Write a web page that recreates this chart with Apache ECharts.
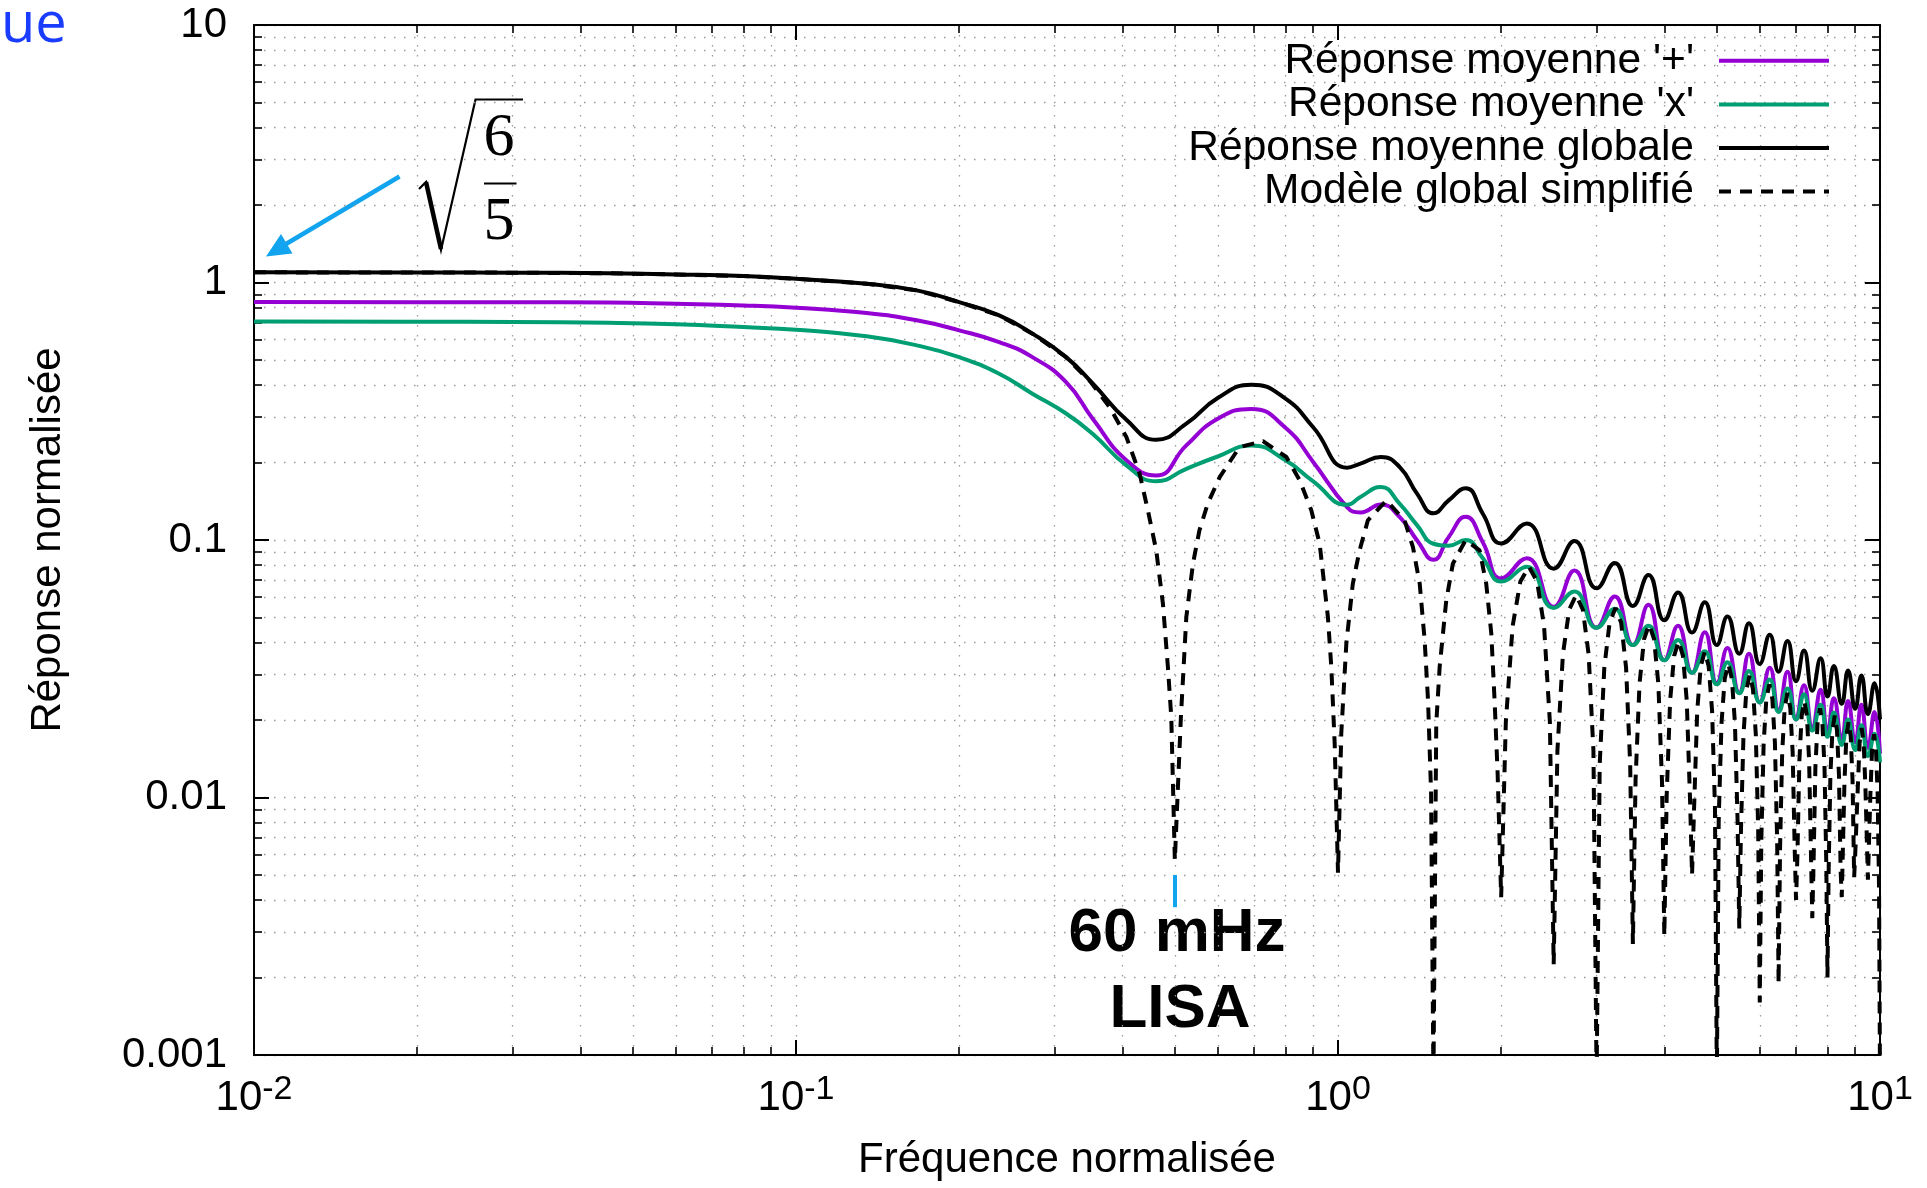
<!DOCTYPE html>
<html><head><meta charset="utf-8">
<script src="https://cdn.jsdelivr.net/npm/echarts@6/dist/echarts.min.js"></script>
<style>html,body{margin:0;padding:0;background:#fff}#c{width:1927px;height:1188px}</style>
</head><body><div id="c"></div>
<script>
// ---------------- DATA ----------------
const legendNames = ["Réponse moyenne '+'", "Réponse moyenne 'x'", "Réponse moyenne globale", "Modèle global simplifié"];

const xTickValues = [0.01, 0.1, 1, 10];
const xTickExponents = ['-2', '-1', '0', '1'];
const yTickValues = [0.001, 0.01, 0.1, 1, 10];
const yTickLabels = ['0.001', '0.01', '0.1', '1', '10'];

// shared frequency grid of the three solid curves
const fSolid = [0.01, 0.02, 0.03, 0.045, 0.06, 0.08, 0.1, 0.135, 0.167, 0.2,
  0.237, 0.273, 0.315, 0.353, 0.407, 0.462, 0.525, 0.6, 0.692, 0.8,
  0.9, 1.04, 1.1, 1.2, 1.3, 1.4, 1.5, 1.6, 1.72, 1.85,
  2.0, 2.23, 2.5, 2.73, 3.0, 3.24, 3.5, 3.74, 4.0, 4.24,
  4.5, 4.75, 5.0, 5.23, 5.5, 5.73, 6.0, 6.26, 6.5, 6.75,
  7.0, 7.24, 7.5, 7.77, 8.0, 8.22, 8.5, 8.73, 9.0, 9.24,
  9.5, 9.77, 10];

const globalResp = [1.095, 1.094, 1.092, 1.086, 1.075, 1.059, 1.034, 0.989, 0.932, 0.839,
  0.745, 0.633, 0.513, 0.405, 0.293, 0.245, 0.283, 0.356, 0.401, 0.354,
  0.274, 0.191, 0.198, 0.210, 0.192, 0.151, 0.127, 0.1425, 0.159, 0.1265,
  0.097, 0.116, 0.0774, 0.099, 0.0649, 0.0815, 0.0554, 0.0731, 0.0488, 0.0626,
  0.0437, 0.0573, 0.0391, 0.0505, 0.0362, 0.0475, 0.033, 0.0429, 0.0308, 0.0405,
  0.0283, 0.0372, 0.026, 0.0347, 0.0247, 0.0324, 0.0231, 0.0311, 0.0221, 0.0298,
  0.0211, 0.0278, 0.0201];

const plusResp = [0.840, 0.839, 0.838, 0.836, 0.827, 0.815, 0.798, 0.761, 0.713, 0.652,
  0.587, 0.513, 0.41, 0.295, 0.204, 0.178, 0.233, 0.296, 0.323, 0.273,
  0.201, 0.134, 0.128, 0.1375, 0.1227, 0.0996, 0.0838, 0.1026, 0.123, 0.0981,
  0.071, 0.085, 0.055, 0.0761, 0.0456, 0.0603, 0.0391, 0.056, 0.0341, 0.0464,
  0.0305, 0.0438, 0.0278, 0.0381, 0.0255, 0.0362, 0.0234, 0.0319, 0.0219, 0.0308,
  0.0201, 0.0273, 0.0188, 0.0262, 0.0178, 0.0243, 0.0169, 0.0237, 0.0164, 0.0229,
  0.0156, 0.0215, 0.0148];

const crossResp = [0.705, 0.704, 0.702, 0.697, 0.688, 0.671, 0.656, 0.618, 0.570, 0.513,
  0.442, 0.370, 0.31, 0.258, 0.195, 0.169, 0.189, 0.211, 0.233, 0.204,
  0.169, 0.137, 0.147, 0.1605, 0.138, 0.114, 0.0967, 0.095, 0.100, 0.0849,
  0.069, 0.0787, 0.0545, 0.0631, 0.0456, 0.0541, 0.0391, 0.0464, 0.0341, 0.0409,
  0.0305, 0.037, 0.0275, 0.0335, 0.0254, 0.031, 0.0234, 0.0287, 0.0215, 0.0265,
  0.0201, 0.0252, 0.0182, 0.0229, 0.0172, 0.0214, 0.016, 0.0201, 0.0153, 0.0191,
  0.0145, 0.0177, 0.0137];

// simplified global model: [frequency, response]
const modelPoints = [
  [0.01,1.095],[0.02,1.094],[0.03,1.092],[0.045,1.086],[0.06,1.075],[0.08,1.059],[0.1,1.034],
  [0.135,0.989],[0.167,0.932],[0.2,0.839],[0.237,0.745],[0.273,0.633],[0.315,0.513],[0.35,0.41],
  [0.379,0.328],[0.407,0.251],[0.4305,0.181],[0.446,0.130],[0.462,0.0911],[0.4753,0.0566],
  [0.4855,0.0321],[0.4925,0.0205],[0.5,0.0057],[0.513,0.0205],[0.525,0.0502],[0.54,0.0809],
  [0.555,0.109],[0.575,0.1384],[0.605,0.1755],[0.658,0.2295],[0.727,0.2421],[0.803,0.21],
  [0.85,0.1704],[0.893,0.1303],[0.925,0.0967],[0.958,0.0502],[0.972,0.0321],[0.986,0.0162],
  [1.0,0.0051],[1.014,0.0177],[1.036,0.0396],[1.065,0.0677],[1.096,0.0911],[1.135,0.1191],
  [1.228,0.1425],[1.327,0.1191],[1.375,0.0938],[1.415,0.0677],[1.445,0.0408],[1.466,0.0238],
  [1.485,0.0105],[1.5,0.0008],[1.518,0.0193],[1.54,0.0321],[1.584,0.0583],[1.629,0.0809],
  [1.72,0.1],[1.825,0.0911],[1.877,0.0677],[1.918,0.0433],[1.945,0.0238],[1.97,0.0125],
  [2.0,0.0041],[2.04,0.0196],[2.1,0.0463],[2.17,0.069],[2.25,0.0788],[2.33,0.069],[2.4,0.0463],[2.46,0.0196],
  [2.5,0.00225],[2.54,0.0152],[2.6,0.036],[2.67,0.0536],[2.75,0.0612],[2.83,0.0536],[2.9,0.036],[2.96,0.0152],
  [3.0,0.0008],[3.04,0.0135],[3.1,0.032],[3.17,0.0477],[3.25,0.0544],[3.33,0.0477],[3.4,0.032],[3.46,0.0135],
  [3.5,0.0027],[3.54,0.0117],[3.6,0.0276],[3.67,0.0412],[3.75,0.047],[3.83,0.0412],[3.9,0.0276],[3.96,0.0117],
  [4.0,0.0029],[4.04,0.0101],[4.1,0.0238],[4.17,0.0355],[4.25,0.0405],[4.33,0.0355],[4.4,0.0238],[4.46,0.0101],
  [4.5,0.005],[4.54,0.0092],[4.6,0.0217],[4.67,0.0323],[4.75,0.0369],[4.83,0.0323],[4.9,0.0217],[4.96,0.0092],
  [5.0,0.0008],[5.04,0.0082],[5.1,0.0194],[5.17,0.0289],[5.25,0.033],[5.33,0.0289],[5.4,0.0194],[5.46,0.0082],
  [5.5,0.0031],[5.54,0.0075],[5.6,0.0176],[5.67,0.0263],[5.75,0.030],[5.83,0.0263],[5.9,0.0176],[5.96,0.0075],
  [6.0,0.0016],[6.04,0.0068],[6.1,0.0162],[6.17,0.0241],[6.25,0.0275],[6.33,0.0241],[6.4,0.0162],[6.46,0.0068],
  [6.5,0.0019],[6.54,0.0063],[6.6,0.015],[6.67,0.0223],[6.75,0.0255],[6.83,0.0223],[6.9,0.015],[6.96,0.0063],
  [7.0,0.004],[7.04,0.0059],[7.1,0.0139],[7.17,0.0208],[7.25,0.0237],[7.33,0.0208],[7.4,0.0139],[7.46,0.0059],
  [7.5,0.0034],[7.54,0.0055],[7.6,0.0131],[7.67,0.0194],[7.75,0.0222],[7.83,0.0194],[7.9,0.0131],[7.96,0.0055],
  [8.0,0.002],[8.04,0.0052],[8.1,0.0122],[8.17,0.0182],[8.25,0.0208],[8.33,0.0182],[8.4,0.0122],[8.46,0.0052],
  [8.5,0.0041],[8.6,0.0116],[8.67,0.0173],[8.75,0.0197],[8.83,0.0173],[8.9,0.0116],[8.96,0.0049],
  [9.0,0.006],[9.1,0.0109],[9.17,0.0163],[9.25,0.0186],[9.33,0.0163],[9.4,0.0109],
  [9.5,0.0048],[9.6,0.0103],[9.67,0.0154],[9.75,0.0176],[9.83,0.0154],[9.9,0.0103],[9.96,0.0044],[10.0,0.0008]
];

// LISA marker (frequency and response span of the small blue tick)
const lisaFreq = 0.5;
const lisaSpan = [0.005, 0.00375];

// ---------------- CHART ----------------
const FONT = '"Liberation Sans", Arial, Helvetica, sans-serif';
const SERIF = '"Liberation Serif", "DejaVu Serif", serif';
const BLUE = '#12A4EE';
const pair = (xs, ys) => xs.map((x, i) => [x, ys[i]]);
const findIdx = (arr, v) => arr.findIndex(t => Math.abs(Math.log10(t) - Math.log10(v)) < 1e-6);

const dots = { show: true, lineStyle: { color: '#9a9a9a', width: 1.3, type: [1.5, 8.5] } };
function logAxis(extra) {
  return Object.assign({
    type: 'log', logBase: 10,
    axisLine: { show: true, onZero: false, lineStyle: { color: '#000', width: 2 } },
    axisTick: { show: true, inside: true, length: 15, lineStyle: { color: '#000', width: 2 } },
    minorTick: { show: true, splitNumber: 9, length: 8, lineStyle: { color: '#000', width: 1.6 } },
    splitLine: dots,
    minorSplitLine: dots
  }, extra);
}

const chart = echarts.init(document.getElementById('c'), null, { renderer: 'canvas', width: 1927, height: 1188 });

const option = {
  animation: false,
  backgroundColor: '#fff',
  grid: { left: 254, right: 47, top: 25, bottom: 133, containLabel: false },
  xAxis: [
    logAxis({
      min: 0.01, max: 10, position: 'bottom',
      name: 'Fréquence normalisée', nameLocation: 'middle', nameGap: 84,
      nameTextStyle: { fontFamily: FONT, fontSize: 42, color: '#000' },
      axisLabel: {
        show: true, margin: 18, showMinLabel: true, showMaxLabel: true,
        formatter: v => { const i = findIdx(xTickValues, v); return i < 0 ? '' : '{b|10}{s|' + xTickExponents[i] + '}'; },
        rich: {
          b: { fontFamily: FONT, fontSize: 42, color: '#000', lineHeight: 50, verticalAlign: 'middle' },
          s: { fontFamily: FONT, fontSize: 34, color: '#000', lineHeight: 25, verticalAlign: 'top' }
        }
      }
    }),
    logAxis({
      min: 0.01, max: 10, position: 'top',
      axisLabel: { show: false }, splitLine: { show: false }, minorSplitLine: { show: false }
    })
  ],
  yAxis: [
    logAxis({
      min: 0.001, max: 10, position: 'left',
      name: 'Réponse normalisée', nameLocation: 'middle', nameGap: 185, nameRotate: 90,
      nameTextStyle: { fontFamily: FONT, fontSize: 42, color: '#000' },
      axisLabel: {
        show: true, margin: 27, showMinLabel: true, showMaxLabel: true,
        fontFamily: FONT, fontSize: 42, color: '#000',
        formatter: v => { const i = findIdx(yTickValues, v); return i < 0 ? '' : yTickLabels[i]; }
      }
    }),
    logAxis({
      min: 0.001, max: 10, position: 'right',
      axisLabel: { show: false }, splitLine: { show: false }, minorSplitLine: { show: false }
    })
  ],
  legend: {
    orient: 'vertical', right: 96, top: 39, padding: 0, align: 'right',
    itemWidth: 110, itemHeight: 20, itemGap: 0,
    selectedMode: false,
    textStyle: { fontFamily: FONT, fontSize: 42.5, color: '#000', lineHeight: 43.6, padding: [0, 20, 0, 0] },
    lineStyle: { width: 4 },
    itemStyle: { opacity: 0, color: 'transparent', borderWidth: 0 },
    data: legendNames
  },
  series: [
    { name: legendNames[0], type: 'line', data: pair(fSolid, plusResp), symbol: 'none', showSymbol: false,
      smooth: 0.5, lineStyle: { color: '#9400D3', width: 4 }, itemStyle: { color: '#9400D3' }, z: 2, silent: true },
    { name: legendNames[1], type: 'line', data: pair(fSolid, crossResp), symbol: 'none', showSymbol: false,
      smooth: 0.5, lineStyle: { color: '#009E73', width: 4 }, itemStyle: { color: '#009E73' }, z: 3, silent: true },
    { name: legendNames[2], type: 'line', data: pair(fSolid, globalResp), symbol: 'none', showSymbol: false,
      smooth: 0.5, lineStyle: { color: '#000', width: 4 }, itemStyle: { color: '#000' }, z: 4, silent: true },
    { name: legendNames[3], type: 'line', data: modelPoints, symbol: 'none', showSymbol: false,
      lineStyle: { color: '#000', width: 4, type: [12, 9] }, itemStyle: { color: '#000' }, z: 5, silent: true,
      markLine: {
        silent: true, symbol: ['none', 'none'], label: { show: false }, animation: false,
        lineStyle: { color: BLUE, width: 4, type: 'solid' },
        data: [[{ coord: [lisaFreq, lisaSpan[0]] }, { coord: [lisaFreq, lisaSpan[1]] }]]
      } }
  ],
  graphic: { elements: [
    // slide-title fragment
    { type: 'text', left: 1, top: -2, style: { text: 'ue', fontFamily: '"Open Sans", sans-serif', fontSize: 56, fill: '#1A3CFF' } },
    // arrow
    { type: 'line', shape: { x1: 399.5, y1: 176.5, x2: 286, y2: 244 }, style: { stroke: BLUE, lineWidth: 4.5 } },
    { type: 'polygon', shape: { points: [[266, 256.5], [281, 234], [292.5, 253.5]] }, style: { fill: BLUE } },
    // sqrt(6/5)
    { type: 'polyline', shape: { points: [[419, 189], [426, 182], [441, 250], [475.5, 99.5], [523, 99.5]] }, style: { stroke: '#000', lineWidth: 2.2, fill: null } },
    { type: 'line', shape: { x1: 426, y1: 182, x2: 441, y2: 249 }, style: { stroke: '#000', lineWidth: 4.5 } },
    { type: 'text', x: 499, y: 139, style: { text: '6', fontFamily: SERIF, fontSize: 62, fill: '#000', align: 'center', verticalAlign: 'middle' } },
    { type: 'line', shape: { x1: 484, y1: 183.5, x2: 516.5, y2: 183.5 }, style: { stroke: '#000', lineWidth: 2.2 } },
    { type: 'text', x: 499, y: 223, style: { text: '5', fontFamily: SERIF, fontSize: 62, fill: '#000', align: 'center', verticalAlign: 'middle' } },
    // LISA annotation
    { type: 'text', x: 1177, y: 934, style: { text: '60 mHz', fontFamily: FONT, fontWeight: 'bold', fontSize: 62, fill: '#000', align: 'center', verticalAlign: 'middle' } },
    { type: 'text', x: 1180, y: 1010, style: { text: 'LISA', fontFamily: FONT, fontWeight: 'bold', fontSize: 62, fill: '#000', align: 'center', verticalAlign: 'middle' } }
  ] }
};
chart.setOption(option);
</script>
</body></html>
